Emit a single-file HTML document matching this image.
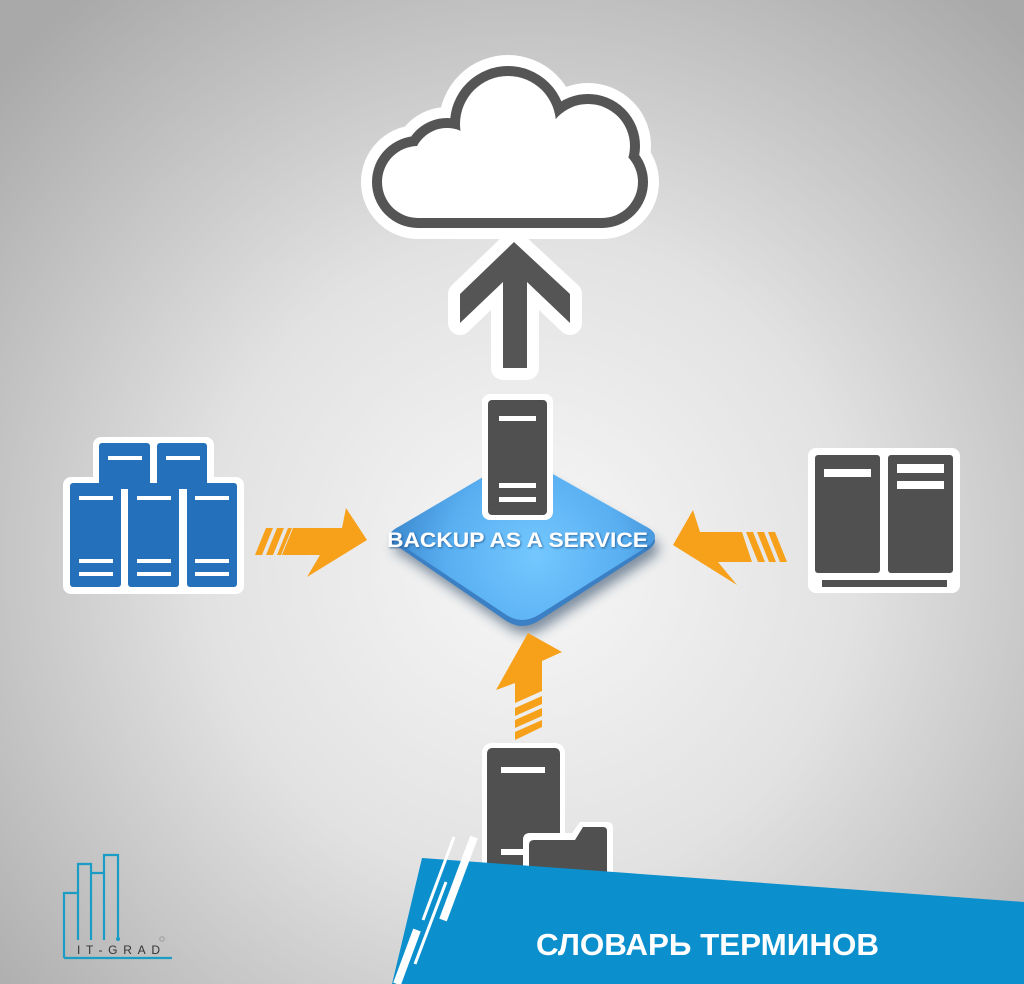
<!DOCTYPE html>
<html><head><meta charset="utf-8"><style>
html,body{margin:0;padding:0;width:1024px;height:984px;overflow:hidden}
svg{display:block}
</style></head><body>
<svg width="1024" height="984" viewBox="0 0 1024 984" xmlns="http://www.w3.org/2000/svg">
<defs>
<radialGradient id="bg" cx="530" cy="560" r="720" gradientUnits="userSpaceOnUse">
<stop offset="0" stop-color="#f7f7f7"/><stop offset="0.45" stop-color="#e2e2e2"/><stop offset="1" stop-color="#a9a9a9"/>
</radialGradient>
<radialGradient id="dia" cx="535" cy="555" r="150" gradientUnits="userSpaceOnUse">
<stop offset="0" stop-color="#74c8ff"/><stop offset="0.6" stop-color="#58aef0"/><stop offset="1" stop-color="#3a86cc"/>
</radialGradient>
<filter id="sh" x="-20%" y="-20%" width="140%" height="160%"><feGaussianBlur stdDeviation="6"/></filter>
<filter id="ts"><feDropShadow dx="1" dy="1" stdDeviation="1" flood-color="#1a4a80" flood-opacity="0.7"/></filter>
</defs>
<rect width="1024" height="984" fill="url(#bg)"/>

<!-- cloud -->
<g fill="#fff" stroke="#fff" stroke-width="42" stroke-linejoin="round">
<rect x="382" y="146" width="256" height="72" rx="36"/>
<circle cx="447" cy="162" r="34"/><circle cx="508" cy="124" r="48"/><circle cx="588" cy="146" r="42"/>
</g>
<g fill="#555" stroke="#555" stroke-width="20" stroke-linejoin="round">
<rect x="382" y="146" width="256" height="72" rx="36"/>
<circle cx="447" cy="162" r="34"/><circle cx="508" cy="124" r="48"/><circle cx="588" cy="146" r="42"/>
</g>
<g fill="#fff">
<rect x="382" y="146" width="256" height="72" rx="36"/>
<circle cx="447" cy="162" r="34"/><circle cx="508" cy="124" r="48"/><circle cx="588" cy="146" r="42"/>
</g>

<!-- up arrow -->
<polygon points="514,242 570,294 570,323 527,282 527,368 503,368 503,282 460,323 460,294" fill="#fff" stroke="#fff" stroke-width="24" stroke-linejoin="round"/>
<polygon points="514,242 570,294 570,323 527,282 527,368 503,368 503,282 460,323 460,294" fill="#555"/>

<!-- diamond -->
<path d="M400,548 Q380,540 400,530 L505,468 Q520,460 535,468 L645,530 Q665,540 645,552 L540,620 Q522,632 505,620 Z" fill="#1e3a5a" opacity="0.55" filter="url(#sh)" transform="translate(4,8)"/>
<path d="M400,548 Q380,540 400,530 L505,468 Q520,460 535,468 L645,530 Q665,540 645,552 L540,620 Q522,632 505,620 Z" fill="#3b80c4"/>
<path d="M400,544 Q380,536 400,526 L505,464 Q520,456 535,464 L645,526 Q665,536 645,548 L540,614 Q522,626 505,614 Z" fill="url(#dia)"/>
<!-- center server -->
<rect x="482" y="394" width="71" height="126" rx="8" fill="#fff"/>
<rect x="488" y="400" width="59" height="115" rx="4" fill="#505050"/>
<rect x="499" y="416" width="37" height="5" fill="#fff"/>
<rect x="499" y="483" width="37" height="5" fill="#fff"/>
<rect x="499" y="497" width="37" height="5" fill="#fff"/>
<text x="387" y="547" font-family="Liberation Sans, sans-serif" font-weight="bold" font-size="21" fill="#fff" textLength="261" lengthAdjust="spacingAndGlyphs" filter="url(#ts)">BACKUP AS A SERVICE</text>

<!-- left servers -->
<rect x="93" y="437" width="121" height="60" rx="8" fill="#fff"/>
<rect x="63" y="477" width="181" height="117" rx="8" fill="#fff"/>
<g fill="#2470ba">
<rect x="99" y="443" width="51" height="46" rx="3"/><rect x="157" y="443" width="50" height="46" rx="3"/>
<rect x="70" y="483" width="51" height="104" rx="3"/><rect x="128" y="483" width="51" height="104" rx="3"/><rect x="187" y="483" width="50" height="104" rx="3"/>
</g>
<g fill="#fff">
<rect x="108" y="456" width="34" height="4"/><rect x="166" y="456" width="34" height="4"/>
<rect x="79" y="496" width="34" height="4"/><rect x="137" y="496" width="34" height="4"/><rect x="195" y="496" width="34" height="4"/>
<rect x="79" y="559" width="34" height="4"/><rect x="137" y="559" width="34" height="4"/><rect x="195" y="559" width="34" height="4"/>
<rect x="79" y="572" width="34" height="4"/><rect x="137" y="572" width="34" height="4"/><rect x="195" y="572" width="34" height="4"/>
</g>
<!-- left orange arrow -->
<g fill="#f7a01a">
<polygon points="293,528 342,528 346,508 367,540 307,577 320,555 282,555"/>
<polygon points="266,528 273,528 262,555 255,555"/>
<polygon points="277,528 284,528 273,555 266,555"/>
<polygon points="288,528 292,528 281,555 277,555"/>
</g>

<!-- right server -->
<rect x="808" y="448" width="152" height="145" rx="8" fill="#fff"/>
<rect x="815" y="455" width="65" height="118" rx="3" fill="#505050"/>
<rect x="888" y="455" width="65" height="118" rx="3" fill="#505050"/>
<rect x="822" y="580" width="125" height="7" fill="#505050"/>
<g fill="#fff">
<rect x="824" y="469" width="47" height="8"/><rect x="897" y="464" width="47" height="9"/><rect x="897" y="481" width="47" height="8"/>
</g>
<!-- right orange arrow -->
<g fill="#f7a01a">
<polygon points="673,545 693,510 700,532 742,532 752,562 718,562 737,585"/>
<polygon points="746,532 753,532 765,562 758,562"/>
<polygon points="757,532 764,532 776,562 769,562"/>
<polygon points="768,532 775,532 787,562 780,562"/>
</g>

<!-- bottom orange arrow -->
<g fill="#f7a01a">
<polygon points="528,633 562,652 542,661 542,691 515,703 515,683 496,690"/>
<polygon points="515,708 542,696 542,704 515,716"/>
<polygon points="515,720 542,708 542,716 515,728"/>
<polygon points="515,732 542,720 542,727 515,740"/>
</g>

<!-- bottom server + folder -->
<rect x="482" y="743" width="83" height="150" rx="10" fill="#fff"/>
<rect x="487" y="748" width="73" height="140" rx="5" fill="#505050"/>
<rect x="501" y="767" width="44" height="6" fill="#fff"/>
<rect x="501" y="849" width="25" height="6" fill="#fff"/>
<path d="M523,840 Q523,833 530,833 L572,833 L580,822 L607,822 Q613,822 613,828 L613,895 L523,895 Z" fill="#fff"/>
<path d="M529,845 Q529,840 534,840 L575,840 L583,827 L603,827 Q607,827 607,831 L607,895 L529,895 Z" fill="#505050"/>

<!-- blue band -->
<polygon points="422,858 1024,902 1024,984 392,984" fill="#0b8fcd"/>
<g stroke="#fff" stroke-linecap="butt">
<line x1="454" y1="837" x2="423" y2="920" stroke-width="3"/>
<line x1="474" y1="837" x2="443" y2="920" stroke-width="8"/>
<line x1="446" y1="882" x2="415" y2="964" stroke-width="3"/>
<line x1="417" y1="930" x2="397" y2="984" stroke-width="8"/>
</g>
<text x="536" y="955" font-family="Liberation Sans, sans-serif" font-weight="bold" font-size="31" fill="#fff" textLength="343" lengthAdjust="spacingAndGlyphs">СЛОВАРЬ ТЕРМИНОВ</text>

<!-- logo -->
<g fill="none" stroke="#1a9cc4" stroke-width="2.2">
<polyline points="64,958 64,893 78,893 78,940"/>
<polyline points="78,893 78,864 91,864 91,940"/>
<polyline points="91,873 104,873 104,940"/>
<polyline points="104,873 104,855 118,855 118,938"/>
<line x1="64" y1="958" x2="172" y2="958"/>
</g>
<circle cx="118" cy="939" r="2" fill="#1a9cc4"/>
<text x="77" y="954" font-family="Liberation Sans, sans-serif" font-size="12" fill="#333" textLength="83" lengthAdjust="spacing">IT-GRAD</text>
<circle cx="162" cy="939" r="2.2" fill="none" stroke="#888" stroke-width="0.7"/>
</svg>
</body></html>
